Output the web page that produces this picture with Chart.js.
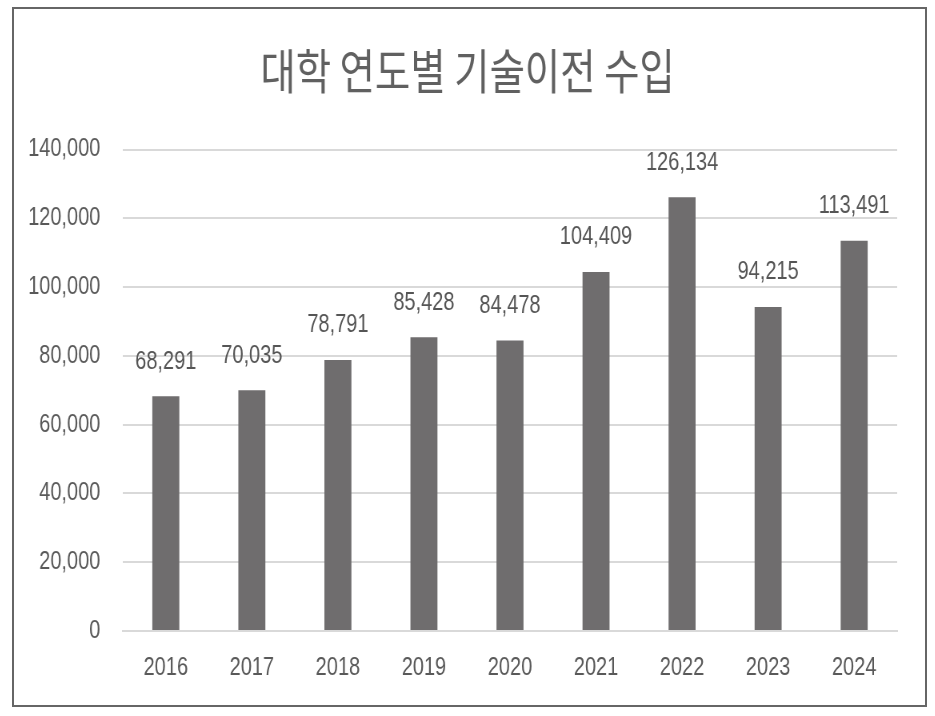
<!DOCTYPE html>
<html>
<head>
<meta charset="utf-8">
<script src="https://cdn.jsdelivr.net/npm/chart.js@4"></script>
<style>
  html,body{margin:0;padding:0;background:#fff;width:935px;height:716px;overflow:hidden}
  #frame{position:absolute;left:12px;top:7px;width:915px;height:700px;border:2px solid #666;box-sizing:border-box}
  #chartTech{position:absolute;left:14px;top:9px;transform:scaleX(0.8);transform-origin:0 0}
</style>
</head>
<body>
<div id="frame"></div>
<canvas id="chartTech" width="1139" height="696"></canvas>
<script>
const years  = ['2016','2017','2018','2019','2020','2021','2022','2023','2024'];
const income = [68291, 70035, 78791, 85428, 84478, 104409, 126134, 94215, 113491];
const yTicks = [0, 20000, 40000, 60000, 80000, 100000, 120000, 140000];

const fmt = v => Number(v).toLocaleString('en-US');
const numFont = "'Liberation Sans', Arial, sans-serif";

// value labels above each bar
const barLabels = {
  id: 'barLabels',
  afterDatasetsDraw(chart){
    const {ctx} = chart;
    const meta = chart.getDatasetMeta(0);
    ctx.save();
    ctx.fillStyle = '#555555';
    ctx.font = '25px ' + numFont;
    ctx.textAlign = 'center';
    ctx.textBaseline = 'bottom';
    meta.data.forEach((bar, i) => {
      ctx.fillText(fmt(income[i]), bar.x, bar.y - 22);
    });
    ctx.restore();
  }
};

new Chart(document.getElementById('chartTech'), {
  type: 'bar',
  data: {
    labels: years,
    datasets: [{
      label: '기술이전 수입',
      data: income,
      backgroundColor: '#6f6d6e',
      borderWidth: 0,
      barPercentage: 0.314,
      categoryPercentage: 1
    }]
  },
  options: {
    responsive: false,
    animation: false,
    layout: { padding: { left: 0, right: 5, top: 0, bottom: 0 } },
    plugins: {
      legend: { display: false },
      tooltip: { enabled: false },
      title: {
        display: true,
        text: '대학 연도별 기술이전 수입',
        color: '#606060',
        font: { family: "'Noto Sans CJK KR', sans-serif", size: 48, weight: 'normal' },
        padding: { top: 33, bottom: 50 }
      }
    },
    scales: {
      y: {
        min: 0, max: 140000,
        afterBuildTicks: s => { s.ticks = yTicks.map(v => ({ value: v })); },
        afterFit: s => { s.width = 136; },
        border: { display: false },
        grid: { color: '#d9d9d9', lineWidth: 2, drawTicks: false },
        ticks: {
          padding: 28,
          color: '#595959',
          font: { family: numFont, size: 25 },
          callback: v => fmt(v)
        }
      },
      // empty right-hand gutter so the plot ends where the original does
      yRight: {
        position: 'right',
        afterFit: s => { s.width = 30; },
        border: { display: false },
        grid: { display: false, drawTicks: false },
        ticks: { display: false }
      },
      x: {
        border: { display: true, color: '#d9d9d9', width: 2 },
        grid: { display: false, drawTicks: false },
        ticks: {
          padding: 22,
          color: '#595959',
          font: { family: numFont, size: 25 }
        }
      }
    }
  },
  plugins: [barLabels]
});
</script>
</body>
</html>
